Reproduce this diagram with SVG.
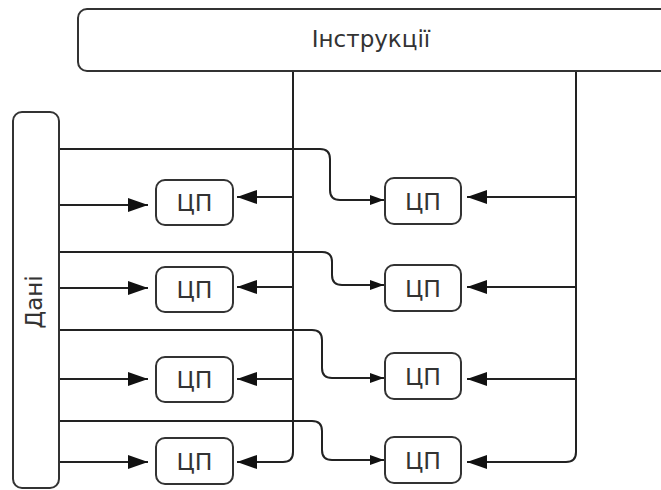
<svg xmlns="http://www.w3.org/2000/svg" width="661" height="490" viewBox="0 0 661 490">
  <style>
    .box { fill: #ffffff; stroke: #333333; stroke-width: 2; }
    .wire { fill: none; stroke: #222222; stroke-width: 2; }
    .lbl { font-family: "DejaVu Sans", Verdana, sans-serif; fill: #333333; text-anchor: middle; }
    .cpu { font-size: 23.5px; }
  </style>
  <defs>
    <marker id="arrow" markerUnits="userSpaceOnUse" viewBox="0 0 20 14" refX="20" refY="7" markerWidth="20" markerHeight="14" orient="auto">
      <path d="M0,0 L20,7 L0,14 z" fill="#111111"/>
    </marker>
    <marker id="arrowSmall" markerUnits="userSpaceOnUse" viewBox="0 0 14 10" refX="14" refY="5" markerWidth="14" markerHeight="10" orient="auto">
      <path d="M0,0 L14,5 L0,10 z" fill="#111111"/>
    </marker>
  </defs>

  <!-- connectors -->
  <g id="connectors">
    <!-- instruction bus, left column -->
    <path class="wire" d="M293,71 V452 Q293,462 283,462 H237" marker-end="url(#arrow)"/>
    <path class="wire" d="M293,197 H237" marker-end="url(#arrow)"/>
    <path class="wire" d="M293,287 H237" marker-end="url(#arrow)"/>
    <path class="wire" d="M293,379 H237" marker-end="url(#arrow)"/>
    <!-- instruction bus, right column -->
    <path class="wire" d="M576,71 V452 Q576,462 566,462 H467" marker-end="url(#arrow)"/>
    <path class="wire" d="M576,197 H467" marker-end="url(#arrow)"/>
    <path class="wire" d="M576,287 H467" marker-end="url(#arrow)"/>
    <path class="wire" d="M576,379 H467" marker-end="url(#arrow)"/>
    <!-- data to left column -->
    <path class="wire" d="M59,205 H148" marker-end="url(#arrow)"/>
    <path class="wire" d="M59,288 H148" marker-end="url(#arrow)"/>
    <path class="wire" d="M59,379 H148" marker-end="url(#arrow)"/>
    <path class="wire" d="M59,462 H148" marker-end="url(#arrow)"/>
    <!-- data to right column -->
    <path class="wire" d="M59,149 H320 Q330,149 330,159 V190 Q330,200 340,200 H384" marker-end="url(#arrowSmall)"/>
    <path class="wire" d="M59,252 H322 Q332,252 332,262 V275 Q332,285 342,285 H384" marker-end="url(#arrowSmall)"/>
    <path class="wire" d="M59,330 H312 Q322,330 322,340 V368 Q322,378 332,378 H384" marker-end="url(#arrowSmall)"/>
    <path class="wire" d="M59,421 H312 Q322,421 322,431 V450 Q322,460 332,460 H384" marker-end="url(#arrowSmall)"/>
  </g>

  <g id="instructions">
    <rect class="box" x="78" y="9" width="620" height="62" rx="9"/>
    <text class="lbl" x="371" y="47" font-size="23">Інструкції</text>
  </g>

  <g id="data">
    <rect class="box" x="13" y="112" width="46" height="376" rx="9"/>
    <text class="lbl" font-size="23" transform="translate(42,302) rotate(-90)">Дані</text>
  </g>

  <g id="cpu-l1"><rect class="box" x="156" y="180" width="77" height="45" rx="9"/><text class="lbl cpu" x="194.5" y="211">ЦП</text></g>
  <g id="cpu-l2"><rect class="box" x="156" y="267" width="77" height="45" rx="9"/><text class="lbl cpu" x="194.5" y="298">ЦП</text></g>
  <g id="cpu-l3"><rect class="box" x="156" y="357" width="77" height="45" rx="9"/><text class="lbl cpu" x="194.5" y="388">ЦП</text></g>
  <g id="cpu-l4"><rect class="box" x="156" y="438" width="77" height="46" rx="9"/><text class="lbl cpu" x="194.5" y="470">ЦП</text></g>

  <g id="cpu-r1"><rect class="box" x="385" y="178" width="76" height="46" rx="9"/><text class="lbl cpu" x="423" y="210">ЦП</text></g>
  <g id="cpu-r2"><rect class="box" x="385" y="265" width="76" height="46" rx="9"/><text class="lbl cpu" x="423" y="297">ЦП</text></g>
  <g id="cpu-r3"><rect class="box" x="385" y="353" width="76" height="46" rx="9"/><text class="lbl cpu" x="423" y="385">ЦП</text></g>
  <g id="cpu-r4"><rect class="box" x="385" y="437" width="76" height="46" rx="9"/><text class="lbl cpu" x="423" y="469">ЦП</text></g>
</svg>
